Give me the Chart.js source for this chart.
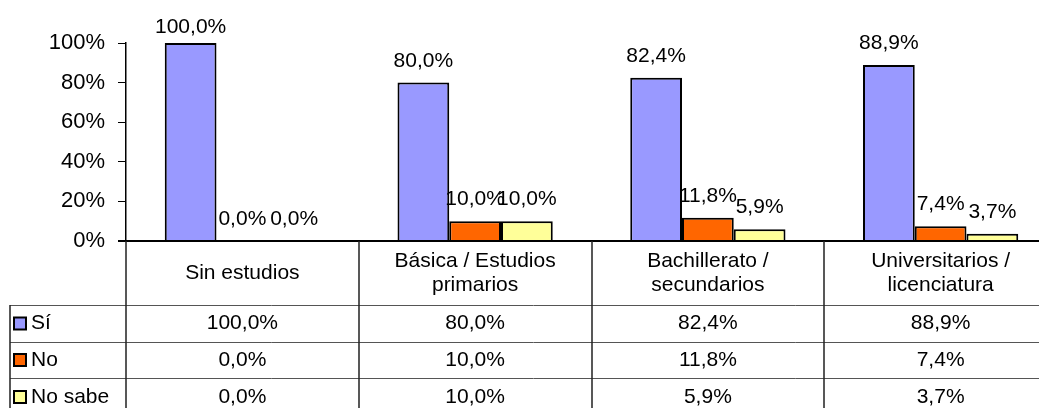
<!DOCTYPE html>
<html>
<head>
<meta charset="utf-8">
<script src="https://cdn.jsdelivr.net/npm/chart.js@4"></script>
<style>
  html, body { margin: 0; padding: 0; background: #fff; overflow: hidden; }
  #frame { width: 1039px; height: 408px; overflow: hidden; position: relative; }
</style>
</head>
<body>
<div id="frame">
  <canvas id="chart" width="1057" height="408"></canvas>
</div>
<script>
// data
const categories = [
  ['Sin estudios'],
  ['Básica / Estudios', 'primarios'],
  ['Bachillerato /', 'secundarios'],
  ['Universitarios /', 'licenciatura']
];
const seriesNames = ['Sí', 'No', 'No sabe'];
const si = [100, 80, 82.4, 88.9];
const no = [0, 10, 11.8, 7.4];
const noSabe = [0, 10, 5.9, 3.7];
const yTicks = [0, 20, 40, 60, 80, 100];

const colors = ['#9999FF', '#FF6600', '#FFFF99'];
const FONT = '"Liberation Sans", Arial, sans-serif';

function fmt(v) {
    return v.toFixed(1).replace('.', ',') + '%';
}

// value labels above the bars
const valueLabels = {
    id: 'valueLabels',
    afterDatasetsDraw(chart) {
        const ctx = chart.ctx;
        ctx.save();
        ctx.font = '21px ' + FONT;
        ctx.fillStyle = '#000';
        ctx.textAlign = 'center';
        ctx.textBaseline = 'alphabetic';
        chart.data.datasets.forEach((ds, i) => {
            chart.getDatasetMeta(i).data.forEach((bar, j) => {
                const y = Math.max(bar.y - 16, chart.chartArea.top - 10);
                ctx.fillText(fmt(ds.data[j]), bar.x, y);
            });
        });
        ctx.restore();
    }
};

// data table under the plot
const dataTable = {
    id: 'dataTable',
    afterDraw(chart) {
        const ctx = chart.ctx;
        const x = chart.scales.x;
        const area = chart.chartArea;
        const right = chart.width;
        const top = area.bottom;
        const rows = [305, 342, 378];
        const bottom = chart.height;
        const legendLeft = 10;
        const half = (x.getPixelForValue(1) - x.getPixelForValue(0)) / 2;

        ctx.save();
        // axis / table top
        ctx.strokeStyle = '#000';
        ctx.lineWidth = 2;
        ctx.beginPath();
        ctx.moveTo(area.left - 8, top);
        ctx.lineTo(right, top);
        ctx.stroke();

        ctx.lineWidth = 1;
        ctx.strokeStyle = '#555';
        rows.forEach(r => {
            ctx.beginPath();
            ctx.moveTo(legendLeft, r + 0.5);
            ctx.lineTo(right, r + 0.5);
            ctx.stroke();
        });

        ctx.strokeStyle = '#222';
        ctx.lineWidth = 1.5;
        ctx.beginPath();
        ctx.moveTo(area.left, top);
        ctx.lineTo(area.left, bottom);
        ctx.moveTo(legendLeft, rows[0]);
        ctx.lineTo(legendLeft, bottom);
        for (let i = 1; i < categories.length; i++) {
            const bx = Math.round(x.getPixelForValue(i) - half);
            ctx.moveTo(bx, top);
            ctx.lineTo(bx, bottom);
        }
        ctx.stroke();

        // category names
        ctx.fillStyle = '#000';
        ctx.font = '21px ' + FONT;
        ctx.textAlign = 'center';
        ctx.textBaseline = 'middle';
        const headMid = (top + rows[0]) / 2;
        categories.forEach((lines, i) => {
            const cx = x.getPixelForValue(i);
            const y0 = headMid - (lines.length - 1) * 12;
            lines.forEach((t, k) => ctx.fillText(t, cx, y0 + k * 24));
        });

        // series rows
        const rowBottoms = [rows[1], rows[2], bottom + 8];
        chart.data.datasets.forEach((ds, i) => {
            const mid = (rows[i] + rowBottoms[i]) / 2;
            ctx.textAlign = 'center';
            ds.data.forEach((v, j) => ctx.fillText(fmt(v), x.getPixelForValue(j), mid));
            ctx.fillStyle = colors[i];
            ctx.fillRect(14, mid - 6, 12, 12);
            ctx.strokeStyle = '#000';
            ctx.lineWidth = 2;
            ctx.strokeRect(14, mid - 6, 12, 12);
            ctx.fillStyle = '#000';
            ctx.textAlign = 'left';
            ctx.fillText(ds.label, 31, mid);
        });
        ctx.restore();
    }
};

new Chart(document.getElementById('chart'), {
    type: 'bar',
    data: {
        labels: categories,
        datasets: [si, no, noSabe].map((d, i) => ({
            label: seriesNames[i],
            data: d,
            backgroundColor: colors[i],
            borderColor: '#000',
            borderWidth: 2,
            categoryPercentage: 0.667,
            barPercentage: 1
        }))
    },
    options: {
        responsive: false,
        animation: false,
        devicePixelRatio: 1,
        layout: { padding: { top: 43, bottom: 167, left: 0, right: 0 } },
        plugins: { legend: { display: false }, tooltip: { enabled: false } },
        scales: {
            x: { display: false },
            y: {
                min: 0,
                max: 100,
                afterFit: s => { s.width = 126; },
                afterBuildTicks: s => { s.ticks = yTicks.map(v => ({ value: v })); },
                ticks: {
                    color: '#000',
                    padding: 13,
                    font: { family: FONT, size: 22 },
                    callback: v => v + '%'
                },
                grid: { drawOnChartArea: false, tickLength: 8, color: '#000' },
                border: { color: '#000', width: 1.5 }
            }
        }
    },
    plugins: [valueLabels, dataTable]
});
</script>
</body>
</html>
